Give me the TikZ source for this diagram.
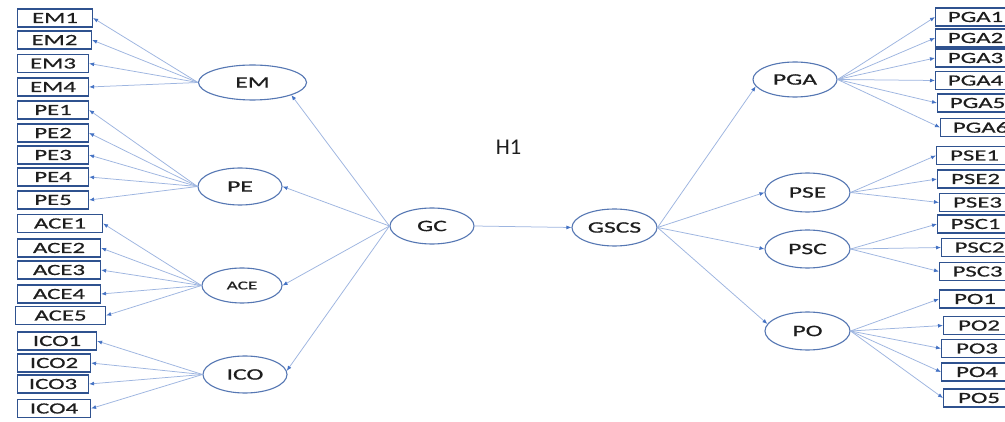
\documentclass[tikz,border=0pt]{standalone}
\usepackage{fontspec}
\setmainfont{Carlito}
\newfontfamily\wfont[FakeStretch=1.6,FakeBold=0.6]{Carlito}
\usetikzlibrary{shapes.geometric,arrows.meta}
\definecolor{boxblue}{HTML}{2F528F}
\definecolor{ellblue}{HTML}{5577B3}
\definecolor{lineblue}{HTML}{9DB5E0}
\definecolor{headblue}{HTML}{4472C4}
\definecolor{txt}{HTML}{1E1E1E}
\tikzset{
  ind/.style={draw=boxblue, line width=1.1pt, minimum height=18pt, inner sep=0pt,
    text=txt, font=\wfont\fontsize{15.5}{18}\selectfont, anchor=west},
  lat/.style={ellipse, draw=ellblue, line width=1.1pt, inner sep=0pt, text=txt,
    font=\wfont\fontsize{16}{18}\selectfont},
  ln/.style={draw=lineblue, line width=0.75pt, -{Latex[length=5pt,width=4pt,color=headblue]}}
}
\begin{document}
\begin{tikzpicture}[x=1pt,y=-1pt]
\useasboundingbox (0,0) rectangle (1005,422);
\clip (0,0) rectangle (1005,422);
\fill[white] (0,0) rectangle (1005,422);
% left indicators
\foreach \n/\w/\y in {EM1/75/18, EM2/74/40, EM3/71/63.5, EM4/71/87,
  PE1/71/110, PE2/71/133, PE3/71/155, PE4/71/177, PE5/71/200,
  ACE1/85/223.5, ACE2/83/248, ACE3/83/270, ACE4/83/294,
  ICO1/79/341, ICO2/73/363, ICO3/71/384, ICO4/73/408.5}
  \node[ind, minimum width=\w pt] (\n) at (17,\y) {\n};
\node[ind, minimum width=90pt] (ACE5) at (15,315.5) {ACE5};
% right indicators
\foreach \n/\x/\w/\y in {PGA1/935/80/17, PGA2/935/80/38, PGA3/935/80/58,
  PGA4/935/80/80.5, PGA5/937/80/103, PGA6/940/80/127.5,
  PSE1/936/76/155.5, PSE2/937/76/179, PSE3/939/76/202.5,
  PSC1/937/76/224, PSC2/941/76/247.5, PSC3/939/76/271.5,
  PO1/939/71/299, PO2/943/71/325.5, PO3/941/71/348.5, PO4/941/71/372, PO5/943/71/398}
  \node[ind, minimum width=\w pt] (\n) at (\x,\y) {\n};
% latent variables
\node[lat, minimum width=108pt, minimum height=35pt] (EM) at (252.5,82.5) {EM};
\node[lat, minimum width=84pt, minimum height=37pt] (PE) at (240,186.5) {PE};
\node[lat, minimum width=80pt, minimum height=35pt, font=\wfont\fontsize{12}{14}\selectfont] (ACE) at (242,285.5) {ACE};
\node[lat, minimum width=84pt, minimum height=37pt] (ICO) at (245,374.5) {ICO};
\node[lat, minimum width=84pt, minimum height=36pt] (GC) at (432,226) {GC};
\node[lat, minimum width=85pt, minimum height=37pt] (GSCS) at (614.5,227.5) {GSCS};
\node[lat, minimum width=84pt, minimum height=35pt] (PGA) at (795,79.5) {PGA};
\node[lat, minimum width=85pt, minimum height=39pt] (PSE) at (807.5,192.5) {PSE};
\node[lat, minimum width=85pt, minimum height=38pt] (PSC) at (807.5,249) {PSC};
\node[lat, minimum width=85pt, minimum height=38pt] (PO) at (807.5,331) {PO};
\node[text=txt, font=\fontsize{22.5}{24}\selectfont] (H1) at (508.5,147) {H1};
% left loadings
\foreach \b in {EM1,EM2,EM3,EM4} \draw[ln] (EM.west) -- (\b.east);
\foreach \b in {PE1,PE2,PE3,PE4,PE5} \draw[ln] (PE.west) -- (\b.east);
\foreach \b in {ACE1,ACE2,ACE3,ACE4,ACE5} \draw[ln] (ACE.west) -- (\b.east);
\foreach \b in {ICO1,ICO2,ICO3,ICO4} \draw[ln] (ICO.west) -- (\b.east);
% right loadings
\foreach \b in {PGA1,PGA2,PGA3,PGA4,PGA5,PGA6} \draw[ln] (PGA.east) -- (\b.west);
\foreach \b in {PSE1,PSE2,PSE3} \draw[ln] (PSE.east) -- (\b.west);
\foreach \b in {PSC1,PSC2,PSC3} \draw[ln] (PSC.east) -- (\b.west);
\foreach \b in {PO1,PO2,PO3,PO4,PO5} \draw[ln] (PO.east) -- (\b.west);
% structural paths
\draw[ln] (GC.west) -- (EM.-18);
\draw[ln] (GC.west) -- (PE.east);
\draw[ln] (GC.west) -- (ACE.east);
\draw[ln] (GC.west) -- (ICO.5);
\draw[ln] (GC.east) -- (GSCS.west);
\draw[ln] (GSCS.east) -- (PGA.190);
\draw[ln] (GSCS.east) -- (PSE.west);
\draw[ln] (GSCS.east) -- (PSC.west);
\draw[ln] (GSCS.east) -- (PO.170);
\end{tikzpicture}
\end{document}
